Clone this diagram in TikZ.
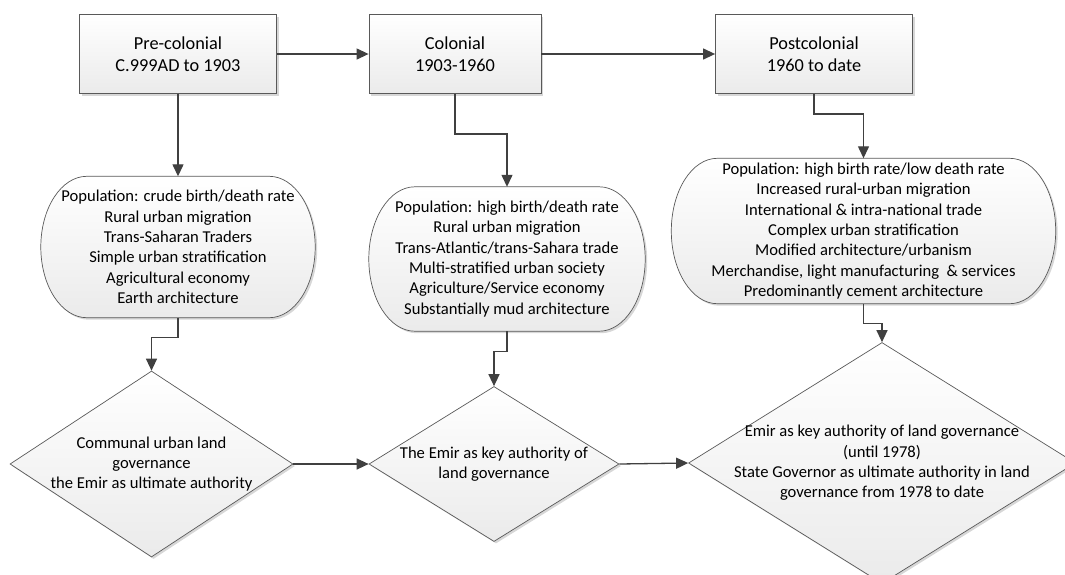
\documentclass[tikz,border=0pt]{standalone}
\usepackage{fontspec}
\setmainfont{Carlito}
\usetikzlibrary{positioning,shapes.geometric,shadows,backgrounds,calc,arrows.meta}

\tikzset{
  softfill/.style={top color=white,bottom color=black!8},
  softshadow/.style={drop shadow={shadow xshift=2pt,shadow yshift=-2pt,opacity=0.35,fill=black!45}},
  periodbox/.style={draw=black!65,line width=0.8pt,softfill,softshadow,minimum height=79pt,align=center,font=\fontsize{18.3}{22.3}\selectfont},
  traitbox/.style={inner sep=0pt,align=center,font=\fontsize{16.6}{20.3}\selectfont},
  govbox/.style={diamond,aspect=1.55,inner sep=-10pt,draw=black!65,line width=0.7pt,softfill,softshadow,align=center,font=\fontsize{16.6}{20.3}\selectfont},
  conn/.style={draw=black!75,line width=1.3pt,->,>={Triangle[length=12pt,width=11pt]}}
}

\begin{document}
\begin{tikzpicture}[x=1pt,y=-1pt]
\useasboundingbox (0,0) rectangle (1065,574);

\node[periodbox,minimum width=197pt](pre) at (178,54) {Pre-colonial\\C.999AD to 1903};
\node[periodbox,minimum width=172pt](col) at (455,54) {Colonial\\1903-1960};
\node[periodbox,minimum width=197pt](post) at (814,54) {Postcolonial\\1960 to date};

\node[traitbox,minimum width=274pt,minimum height=141pt](pretrm) at (178,247) {Population: crude birth/death rate\\Rural urban migration\\Trans-Saharan Traders\\Simple urban stratification\\Agricultural economy\\Earth architecture};
\node[traitbox,minimum width=276pt,minimum height=144pt](coltrm) at (507,259) {Population: high birth/death rate\\Rural urban migration\\Trans-Atlantic/trans-Sahara trade\\Multi-stratified urban society\\Agriculture/Service economy\\Substantially mud architecture};
\node[traitbox,minimum width=384pt,minimum height=145pt](posttrm) at (863.5,231) {Population: high birth rate/low death rate\\Increased rural-urban migration\\International \& intra-national trade\\Complex urban stratification\\Modified architecture/urbanism\\Merchandise, light manufacturing~ \& services\\Predominantly cement architecture};

\node[govbox,minimum width=283pt,minimum height=186pt](gov1) at (151.5,464) {Communal urban land\\governance\\the Emir as ultimate authority};
\node[govbox,minimum width=250pt,minimum height=155pt](gov2) at (494,464) {The Emir as key authority of\\land governance};
\node[govbox,minimum width=387pt,minimum height=241pt](gov3) at (882,463) {Emir as key authority of land governance\\(until 1978)\\State Governor as ultimate authority in land\\governance from 1978 to date};

\begin{scope}[on background layer]
\foreach \t in {pretrm,coltrm,posttrm}{
  \path[draw=black!65,line width=0.7pt,softfill,softshadow]
    let \p1=(\t.north), \p2=(\t.south), \n1={abs(\y1-\y2)/2} in
    ([xshift=46pt]\t.north west) -- ([xshift=-46pt]\t.north east)
    arc[start angle=90,end angle=-90,x radius=46pt,y radius=\n1]
    -- ([xshift=46pt]\t.south west)
    arc[start angle=270,end angle=90,x radius=46pt,y radius=\n1] -- cycle;
}
\end{scope}

\foreach \x/\y in {pre/col,col/post,gov1/gov2,gov2/gov3}{
	\draw[conn](\x.east)--(\y.west);
}
\draw[conn](pre.south)--(pretrm.north);
\foreach \x/\y/\dy in {col/coltrm/40,post/posttrm/20,pretrm/gov1/20,coltrm/gov2/20,posttrm/gov3/20}{
	\draw[conn](\x.south)--++(0,\dy)-|(\y.north);
}
\end{tikzpicture}
\end{document}
